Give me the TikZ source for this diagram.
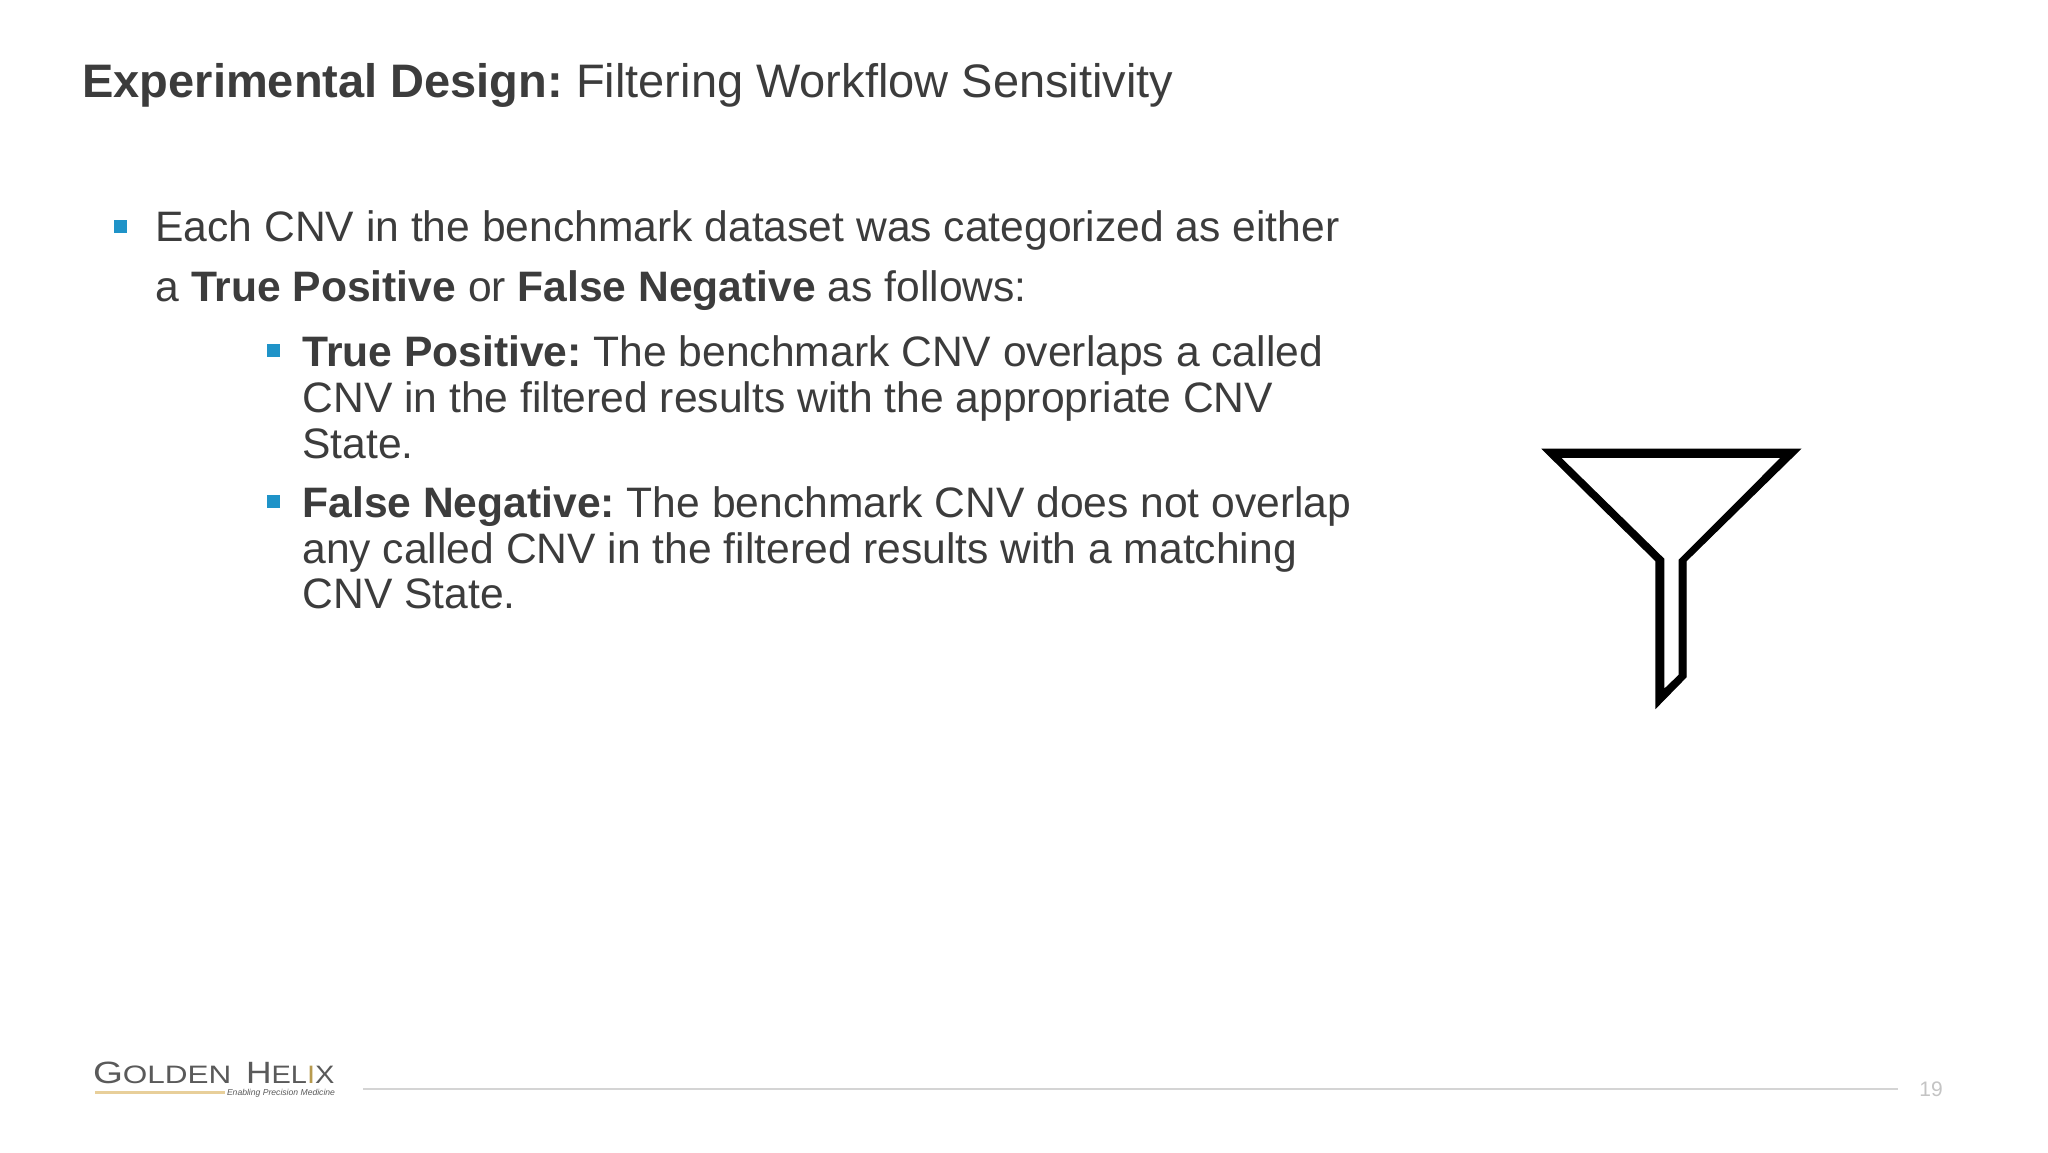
\documentclass[tikz,border=0pt]{standalone}
\usepackage{fontspec}
\setmainfont{Liberation Sans}
\newfontfamily\logofonta[FakeStretch=1.25]{Liberation Sans}
\newfontfamily\logofontb[FakeStretch=1.15]{Liberation Sans}
\definecolor{ink}{HTML}{3C3C3C}
\definecolor{bul}{HTML}{1F93C8}
\definecolor{gold}{HTML}{E8CF9A}
\definecolor{rulegrey}{HTML}{D4D4D4}
\definecolor{numgrey}{HTML}{C4C4C4}
\definecolor{logogrey}{HTML}{5A5A5A}
\definecolor{logogold}{HTML}{B79A4E}
\newcommand{\fs}[1]{\fontsize{#1}{#1}\selectfont}
\begin{document}
\frenchspacing
\begin{tikzpicture}[x=0.5pt,y=-0.5pt,
  line/.style={anchor=base west,inner sep=0pt,outer sep=0pt,text=ink,font=\fs{21.3}},
  titletext/.style={anchor=base west,inner sep=0pt,outer sep=0pt,text=ink,font=\fs{23.5}},
  bullet/.style={fill=bul,draw=none,minimum size=6.5pt,inner sep=0pt,outer sep=0pt,rectangle},
  logotext/.style={anchor=base west,inner sep=0pt,outer sep=0pt,text=logogrey}]
\useasboundingbox (0,0) rectangle (2048,1152);
\fill[white] (0,0) rectangle (2048,1152);
\node[titletext] (title) at (82.5,97) {\textbf{Experimental Design:} Filtering Workflow Sensitivity};
\node[bullet] (b1) at (120,226.5) {};
\node[line] (l1) at (155.5,241.7) {Each CNV in the benchmark dataset was categorized as either};
\node[line] (l2) at (155.5,301.7) {a \textbf{True Positive} or \textbf{False Negative} as follows:};
\node[bullet] (b2) at (273.5,350) {};
\node[line] (l3) at (302.5,366.7) {\textbf{True Positive:} The benchmark CNV overlaps a called};
\node[line] (l4) at (302.5,412.7) {CNV in the filtered results with the appropriate CNV};
\node[line] (l5) at (302.5,458.4) {State.};
\node[bullet] (b3) at (273.5,501) {};
\node[line] (l6) at (302.5,517) {\textbf{False Negative:} The benchmark CNV does not overlap};
\node[line] (l7) at (302.5,563) {any called CNV in the filtered results with a matching};
\node[line] (l8) at (302.5,608.7) {CNV State.};
\filldraw[black,even odd rule,line width=0.6pt,miter limit=3]
 (1542.7,449.3) -- (1800,449.3) -- (1686,561) -- (1686,677) -- (1656,707.7) -- (1656,561) -- cycle
 (1560,457.3) -- (1781.7,457.3) -- (1679.3,560) -- (1679.3,675) -- (1663.7,690) -- (1663.7,559) -- cycle;
\node[logotext,font=\logofonta\fs{15.4}] (logoa) at (93,1083.5) {G\fs{12.6}OLDEN};
\node[logotext,font=\logofontb\fs{15.4}] (logob) at (246,1083.5) {H\fs{12.6}EL\textcolor{logogold}{I}X};
\fill[gold] (95,1091) rectangle (225,1093.5);
\node[logotext,font=\fs{4.3}\itshape] (tag) at (227,1095) {Enabling Precision Medicine};
\draw[rulegrey,line width=1pt] (363,1089) -- (1898,1089);
\node[anchor=base west,inner sep=0pt,text=numgrey,font=\fs{10.5}] (num) at (1919,1096.5) {19};
\end{tikzpicture}
\end{document}
